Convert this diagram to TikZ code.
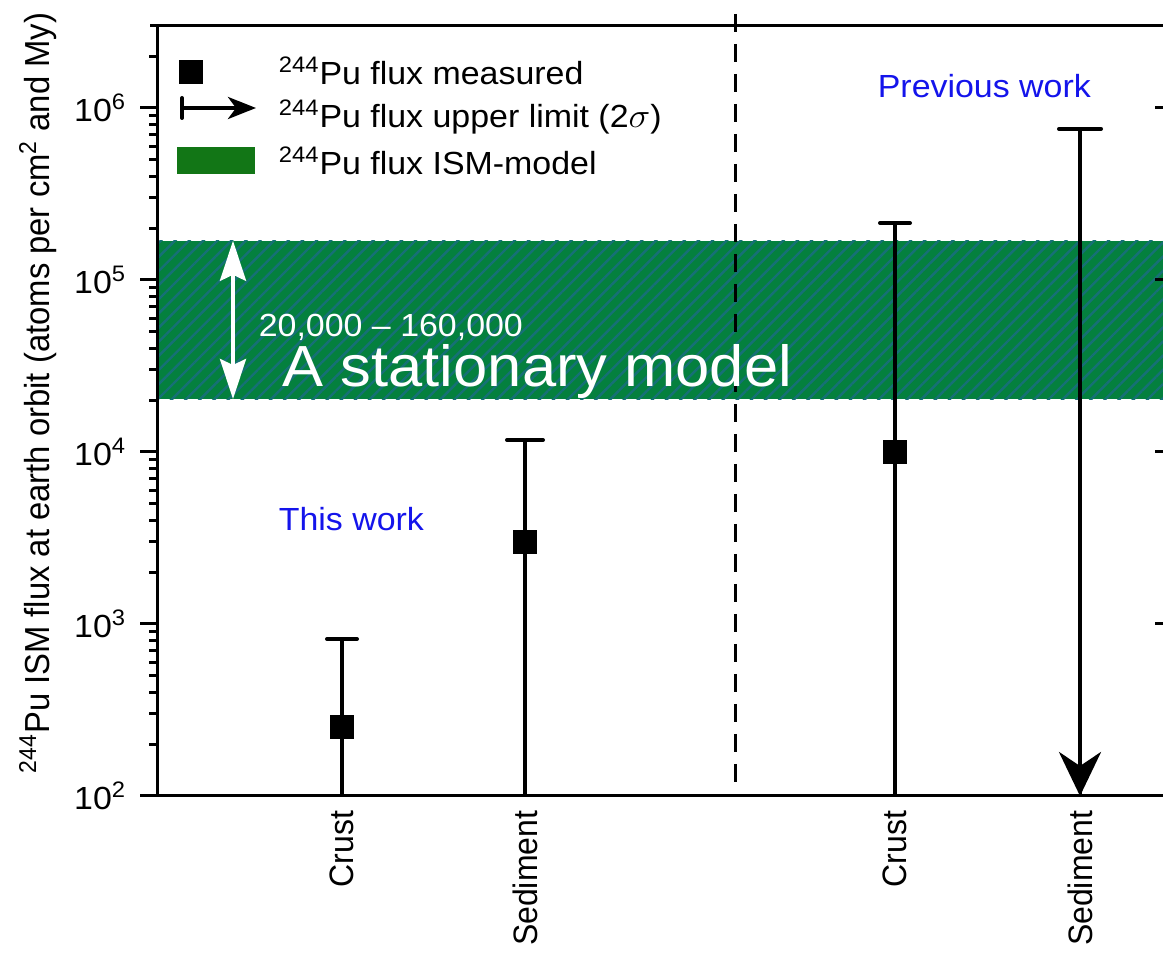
\documentclass[tikz,border=0pt]{standalone}
\usepackage{fontspec}
\setmainfont{Liberation Sans}
\usetikzlibrary{arrows.meta, patterns.meta}

\definecolor{bandgreen}{RGB}{4,128,62}
\definecolor{bandteal}{RGB}{22,112,118}
\definecolor{keygreen}{RGB}{18,118,22}
\definecolor{workblue}{RGB}{20,20,235}

% log10 value -> vertical position
\newcommand{\fy}[1]{157+172*(#1-2)}

\tikzset{
  txt/.style={font=\fontsize{16}{19}\selectfont, inner sep=0pt, xscale=1.06},
  uptxt/.style={font=\fontsize{16}{19}\selectfont, inner sep=0pt, rotate=90, yscale=1.06},
  axisline/.style={line width=1.5pt},
  marker/.style={rectangle, fill=black, minimum size=12pt, inner sep=0pt},
  errbar/.style={line width=2pt, -{Bar[width=15pt, round]}},
}

\begin{document}
\begin{tikzpicture}[x=0.5pt, y=0.5pt, thick]
    \useasboundingbox (0,0) rectangle (1163,953);

    % Band
    \path[fill=bandgreen, postaction={pattern={Lines[angle=45, distance=5pt, line width=1.2pt]}, pattern color=bandteal}]
        (157,{\fy{4.308}}) rectangle (1163,{\fy{5.228}});

    % Axes
    \draw[axisline] (150,927) -- (1163,927);
    \draw[axisline] (157,927) -- (157,157) -- (1163,157);
    \foreach \k in {2,...,6} {
        \draw[axisline] (157,{\fy{\k}}) -- (140,{\fy{\k}});
        \node at (127,{\fy{\k}}) (tick\k) [txt, anchor=east] {10\textsuperscript{\k}};
    }
    \foreach \k in {2,...,5}
        \foreach \m in {2,...,9}
            \draw[axisline] (157,{\fy{\k+log10(\m)}}) -- (149,{\fy{\k+log10(\m)}});
    \draw[axisline] (157,{\fy{6.301}}) -- (149,{\fy{6.301}});
    \foreach \k in {3,...,6}
        \draw[axisline] (1163,{\fy{\k}}) -- (1155,{\fy{\k}});
    \foreach \x in {342,525,895,1080}
        \draw[axisline] (\x,157) -- (\x,165);

    % Divider
    \coordinate (divtop) at (735,939);
    \coordinate (divbot) at (735,163);
    \draw[line width=1.5pt, dash pattern=on 9pt off 6pt] (divtop) -- (divbot);

    % Nodes
    \coordinate (c1low) at (342,157);
    \coordinate (c1high) at (342,{\fy{2.924}});
    \coordinate (s1low) at (525,157);
    \coordinate (s1high) at (525,{\fy{4.081}});
    \coordinate (c2low) at (895,157);
    \coordinate (c2high) at (895,{\fy{5.343}});
    \coordinate (s2low) at (1080,157);
    \coordinate (s2high) at (1080,{\fy{5.890}});
    \coordinate (spanlow) at (233,{\fy{4.308}});
    \coordinate (spanhigh) at (233,{\fy{5.228}});

    % Arrows
    \draw[errbar] (c1low) -- (c1high);
    \draw[errbar, -{Bar[width=18pt, round]}] (s1low) -- (s1high);
    \draw[errbar] (c2low) -- (c2high);
    \draw[line width=2pt, {Bar[width=21pt, round]}-{Stealth[length=22pt, width=21pt, inset=7pt]}] (s2high) -- (s2low);
    \draw[white, line width=2pt, {Stealth[length=20pt, width=13pt, inset=3pt]}-{Stealth[length=20pt, width=13pt, inset=3pt]}] (spanlow) -- (spanhigh);

    \node at (342,{\fy{2.401}}) (c1) [marker] {};
    \node at (525,{\fy{3.477}}) (s1) [marker] {};
    \node at (895,{\fy{4.0}}) (c2) [marker] {};

    % Legend
    \node at (191,881) (keysq) [marker] {};
    \coordinate (keyleft) at (180,845);
    \coordinate (keyright) at (256,845);
    \draw[line width=2pt, {Bar[width=10pt, round]}-{Stealth[length=14pt, width=11pt, inset=4pt]}] (keyleft) -- (keyright);
    \node at (216,792.5) (keyband) [fill=keygreen, minimum width=39pt, minimum height=13.5pt, inner sep=0pt] {};
    \node at (278,868) (keymeas) [txt, anchor=base west] {\textsuperscript{244}Pu flux measured};
    \node at (278,825) (keylim) [txt, anchor=base west] {\textsuperscript{244}Pu flux upper limit (2$\sigma$)};
    \node at (278,778) (keyism) [txt, anchor=base west] {\textsuperscript{244}Pu flux ISM-model};

    % Labels
    \node at (278,422) (thiswork) [txt, anchor=base west, text=workblue] {This work};
    \node at (877,855) (prevwork) [txt, anchor=base west, text=workblue] {Previous work};
    \node at (258,616) (range) [txt, anchor=base west, text=white, font=\fontsize{16}{19}\selectfont] {20,000 -- 160,000};
    \node at (282,566) (model) [txt, anchor=base west, text=white, font=\fontsize{29}{33}\selectfont] {A stationary model};
    \node at (38,560) (ylabel) [uptxt, font=\fontsize{16.4}{19}\selectfont] {\textsuperscript{244}Pu ISM flux at earth orbit (atoms per cm\textsuperscript{2} and My)};
    \node at (342,143) (crust1) [uptxt, anchor=east] {Crust};
    \node at (525,143) (sed1) [uptxt, anchor=east] {Sediment};
    \node at (895,143) (crust2) [uptxt, anchor=east] {Crust};
    \node at (1080,143) (sed2) [uptxt, anchor=east] {Sediment};
\end{tikzpicture}
\end{document}
